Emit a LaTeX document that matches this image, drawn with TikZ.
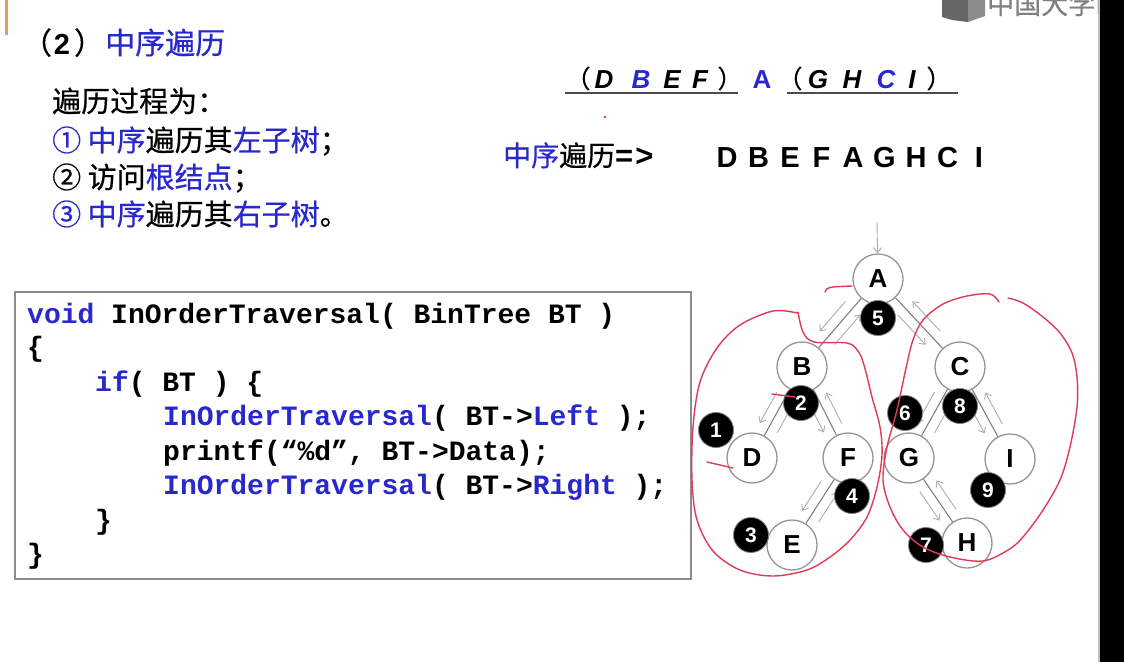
\documentclass[tikz,border=0pt]{standalone}
\usepackage{fontspec}
\setmainfont{Liberation Sans}
\setmonofont{Liberation Mono}
\newfontfamily\cjk[FakeBold=0.5]{Noto Sans CJK SC}
\usetikzlibrary{arrows.meta,calc}
\definecolor{tblue}{RGB}{40,40,205}
\definecolor{tred}{RGB}{222,60,85}
\definecolor{torange}{RGB}{215,160,95}
\tikzset{
  tnode/.style={circle, draw=black!42, line width=1.3pt, fill=white, minimum size=50pt, inner sep=0pt, font=\fontsize{26}{26}\selectfont\bfseries},
  bnode/.style={circle, fill=black, draw=black!50, line width=0.8pt, minimum size=35pt, inner sep=0pt, text=white, font=\fontsize{21}{21}\selectfont\bfseries},
  tedge/.style={draw=black!50, line width=1.1pt},
  tarrow/.style={draw=black!32, line width=0.9pt, -{Straight Barb[length=5pt,width=8pt]}},
  redline/.style={draw=tred, line width=1.4pt, line cap=round, line join=round},
  codeline/.style={anchor=base west, inner sep=0pt, font=\ttfamily\bfseries\fontsize{28}{28}\selectfont},
  cjktext/.style={anchor=base west, inner sep=0pt, font=\cjk\fontsize{29}{29}\selectfont},
  toprow/.style={inner sep=0pt, anchor=base, font=\fontsize{26}{26}\selectfont\bfseries\itshape},
  seqletter/.style={inner sep=0pt, anchor=base, font=\fontsize{29}{29}\selectfont\bfseries},
}
\begin{document}
\begin{tikzpicture}[x=1pt,y=-1pt]
\useasboundingbox (0,0) rectangle (1124,662);
\fill[white] (0,0) rectangle (1124,662);

% decorations of the slide
\draw[torange, line width=3pt] (6,0) -- (6,35);
\fill[black] (1100,0) rectangle (1124,662);
\draw[black!25, line width=1.5pt] (1099,0) -- (1099,662);
\begin{scope}
\clip (0,0) rectangle (1098,662);
\fill[black!60] (942,0) -- (968,0) -- (968,22) -- (952,20) -- (942,17) -- cycle;
\fill[black!45] (968,0) -- (985,0) -- (985,16) -- (968,22) -- cycle;
\node[anchor=base west, inner sep=0pt, text=black!50, font=\cjk\fontsize{27}{27}\selectfont] (wm) at (987,14) {中国大学M};
\end{scope}

% title
\node[inner sep=0pt, anchor=base, font=\cjk\fontsize{30}{30}\selectfont] (tp1) at (37,54) {（};
\node[inner sep=0pt, anchor=base, font=\bfseries\fontsize{29}{29}\selectfont] (tp2) at (62,54) {2};
\node[inner sep=0pt, anchor=base, font=\cjk\fontsize{30}{30}\selectfont] (tp3) at (89,54) {）};
\node[anchor=base west, inner sep=0pt, text=tblue, font=\cjk\fontsize{30}{30}\selectfont] (title) at (105,54) {中序遍历};

% process text
\node[cjktext] (p0) at (52,112) {遍历过程为：};
\node[cjktext] (p1) at (52,151) {\textcolor{tblue}{① 中序}遍历其\textcolor{tblue}{左子树}；};
\node[cjktext] (p2) at (52,188) {② 访问\textcolor{tblue}{根结点}；};
\node[cjktext] (p3) at (52,225) {\textcolor{tblue}{③ 中序}遍历其\textcolor{tblue}{右子树}。};

% top row (D B E F) A (G H C I)
\node[inner sep=0pt, anchor=base, font=\cjk\fontsize{25}{25}\selectfont] (lp1) at (578,88) {（};
\node[toprow] (rD) at (604,88) {D};
\node[toprow, text=tblue] (rB) at (641,88) {B};
\node[toprow] (rE) at (672,88) {E};
\node[toprow] (rF) at (700,88) {F};
\node[inner sep=0pt, anchor=base, font=\cjk\fontsize{25}{25}\selectfont] (rp1) at (730,88) {）};
\node[toprow, text=tblue, font=\fontsize{26}{26}\selectfont\bfseries] (rA) at (762,88) {A};
\node[inner sep=0pt, anchor=base, font=\cjk\fontsize{25}{25}\selectfont] (lp2) at (790,88) {（};
\node[toprow] (rG) at (818,88) {G};
\node[toprow] (rH) at (852,88) {H};
\node[toprow, text=tblue] (rC) at (886,88) {C};
\node[toprow] (rI) at (912,88) {I};
\node[inner sep=0pt, anchor=base, font=\cjk\fontsize{25}{25}\selectfont] (rp2) at (939,88) {）};
\coordinate (u1a) at (565,93); \coordinate (u1b) at (738,93);
\coordinate (u2a) at (787,93); \coordinate (u2b) at (958,93);
\draw[black!70, line width=1.8pt] (u1a) -- (u1b);
\draw[black!70, line width=1.8pt] (u2a) -- (u2b);
\fill[tred] (605,117) circle (1.3pt);

% result sequence
\node[anchor=base west, inner sep=0pt, font=\cjk\fontsize{28}{28}\selectfont] (seqlabel) at (503,166) {\textcolor{tblue}{中序}遍历{\fontspec{Liberation Sans}\bfseries\fontsize{31}{31}\selectfont =\kern2pt>}};
\foreach \l [count=\i from 0] in {D,B,E,F,A,G,H,C,I} {
  \node[seqletter] (s\i) at (727+31.5*\i,167) {\l};
}

% code box
\node[draw=black!45, line width=1.5pt, minimum width=676pt, minimum height=287pt, anchor=north west, inner sep=0] (codebox) at (14,291) {};
\node[codeline] (c1) at (27,323) {\textcolor{tblue}{void} InOrderTraversal( BinTree BT )};
\node[codeline] (c2) at (27,356) {\{};
\node[codeline] (c3) at (95,391) {\textcolor{tblue}{if}( BT ) \{};
\node[codeline] (c4) at (163,425) {\textcolor{tblue}{InOrderTraversal}( BT->\textcolor{tblue}{Left} );};
\node[codeline] (c5) at (163,460) {printf(“\%d”, BT->Data);};
\node[codeline] (c6) at (163,494) {\textcolor{tblue}{InOrderTraversal}( BT->\textcolor{tblue}{Right} );};
\node[codeline] (c7) at (95,529) {\}};
\node[codeline] (c8) at (27,563) {\}};

% tree
\node[tnode] (A) at (878,279) {A};
\node[tnode] (B) at (802,367) {B};
\node[tnode] (C) at (960,367) {C};
\node[tnode] (D) at (752,458) {D};
\node[tnode] (F) at (848,458) {F};
\node[tnode] (G) at (909,458) {G};
\node[tnode] (I) at (1010,459) {I};
\node[tnode] (E) at (792,545) {E};
\node[tnode] (H) at (967,543) {H};

\foreach \p/\c in {A/B,A/C,B/D,B/F,F/E,C/G,C/I,G/H} {
  \draw[tedge] (\p) -- (\c);
  \draw[tarrow] ($(\p)!0.33!(\c)!10pt!-90:(\c)$) -- ($(\p)!0.67!(\c)!10pt!-90:(\c)$);
  \draw[tarrow] ($(\c)!0.33!(\p)!10pt!-90:(\p)$) -- ($(\c)!0.67!(\p)!10pt!-90:(\p)$);
}
\coordinate (start) at (877,222);
\draw[tarrow] (start) -- (A);

\node[bnode] (n5) at (878,318) {5};
\node[bnode] (n2) at (801,403) {2};
\node[bnode] (n1) at (716,430) {1};
\node[bnode] (n4) at (852,496) {4};
\node[bnode] (n3) at (751,535) {3};
\node[bnode] (n6) at (905,413) {6};
\node[bnode] (n8) at (960,406) {8};
\node[bnode] (n9) at (988,490) {9};
\node[bnode] (n7) at (926,545) {7};

% red hand-drawn loops
\draw[redline] plot[smooth, tension=0.55] coordinates {
  (798,312) (803,332) (814,342) (847,343) (858,351) (864,365) (872,397) (880,427)
  (882,455) (877,487) (867,517) (850,540) (830,557) (807,570) (773,576) (740,570)
  (713,551) (697,520) (692,480) (693,427) (700,382) (717,348) (740,325) (773,311) (797,313)};
\draw[redline] plot[smooth, tension=0.55] coordinates {
  (1008,298) (1023,303) (1043,317) (1060,333) (1072,353) (1077,377) (1077,407)
  (1070,447) (1060,480) (1043,510) (1023,537) (1008,550) (983,561) (950,557)
  (923,547) (903,530) (890,507) (883,480) (887,447) (897,410) (906,368) (913,340)
  (923,320) (943,304) (967,296) (990,294) (999,302)};
\draw[redline] (825,292) .. controls (827,287) .. (852,286);
\draw[redline] (772,394) -- (795,397);
\draw[redline] (707,462) -- (733,468);
\end{tikzpicture}
\end{document}
